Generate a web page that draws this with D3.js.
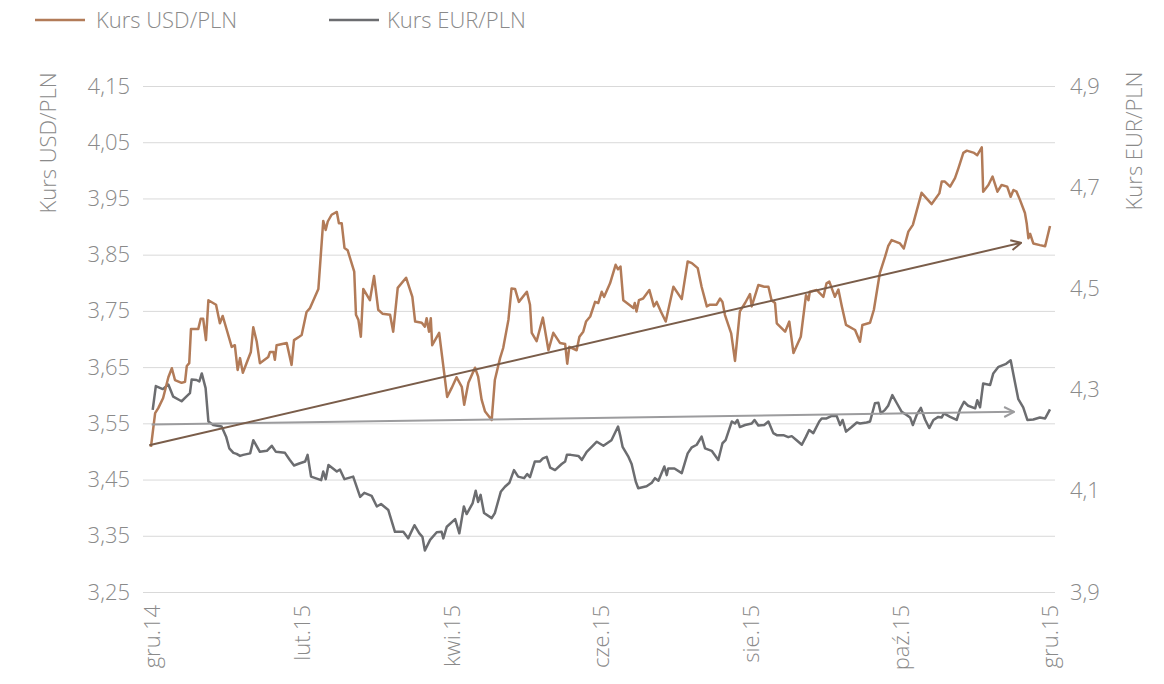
<!DOCTYPE html>
<html>
<head>
<meta charset="utf-8">
<script src="https://cdn.jsdelivr.net/npm/d3@7"></script>
<style>
  body { margin: 0; background: #fff; }
  svg { display: block; font-family: "Open Sans", sans-serif; font-weight: 300; }
</style>
</head>
<body>
<svg id="chart" width="1164" height="684"></svg>
<script>
// sesje notowań od gru.14 (0) do gru.15 (258)
const monthLabels = ["gru.14", "lut.15", "kwi.15", "cze.15", "sie.15", "paź.15", "gru.15"];
const monthSessions = [0, 43, 86, 129, 172, 215, 258];

const usdTicks = [3.25, 3.35, 3.45, 3.55, 3.65, 3.75, 3.85, 3.95, 4.05, 4.15];
const eurTicks = [3.9, 4.1, 4.3, 4.5, 4.7, 4.9];

const usdSession = [-0.3, 0.9, 1.8, 3.2, 4.7, 5.7, 6.6, 8.5, 9.5, 10.0, 10.7, 11.2, 13.3, 14.0, 14.7, 15.5, 16.2, 18.4, 19.5, 20.3,
  21.3, 22.9, 23.8, 24.6, 25.3, 26.1, 28.4, 29.1, 30.1, 31.0, 33.4, 33.9, 34.9, 35.3, 35.8, 38.7, 40.1, 40.8, 42.3, 43.0,
  44.4, 45.4, 47.8, 49.2, 49.9, 50.5, 51.6, 53.1, 53.7, 54.5, 55.3, 56.2, 58.1, 58.6, 59.3, 60.0, 60.7, 62.6, 63.8, 65.0,
  66.2, 68.4, 69.3, 70.6, 73.0, 74.8, 75.6, 77.5, 78.4, 78.9, 79.6, 80.1, 80.5, 82.5, 84.8, 86.1, 87.5, 89.0, 89.7, 90.9,
  92.8, 93.7, 94.7, 95.7, 97.6, 98.5, 100.0, 100.9, 102.4, 103.3, 104.3, 105.4, 107.7, 108.6, 109.1, 110.5, 112.3, 113.9, 115.3, 117.2,
  118.7, 119.3, 119.9, 122.0, 122.8, 123.9, 124.7, 125.9, 127.3, 128.2, 129.2, 129.9, 131.6, 133.2, 133.9, 134.6, 135.4, 137.1, 138.3, 138.7,
  139.2, 139.9, 141.1, 142.9, 144.2, 145.0, 146.2, 147.6, 149.8, 152.2, 153.9, 155.1, 156.8, 157.9, 159.4, 160.3, 162.2, 163.2, 163.9, 164.6,
  166.4, 167.5, 168.9, 170.4, 171.8, 172.3, 174.2, 175.9, 177.1, 178.0, 179.0, 179.5, 181.9, 183.1, 184.3, 186.4, 187.9, 188.6, 189.0, 191.0,
  192.9, 193.8, 194.6, 196.2, 197.2, 198.2, 199.4, 202.0, 203.4, 204.1, 206.3, 207.4, 209.1, 210.6, 211.5, 212.5, 214.9, 216.0, 217.3, 218.6,
  221.1, 224.0, 226.2, 226.9, 227.8, 229.3, 230.7, 231.7, 233.1, 234.1, 236.2, 237.1, 238.4, 238.8, 240.3, 241.5, 242.9, 244.1, 245.7, 246.7,
  247.5, 248.4, 249.4, 250.8, 251.3, 251.8, 252.3, 253.2, 255.1, 256.6, 258.0];
const usdValues = [3.508, 3.568, 3.577, 3.595, 3.632, 3.648, 3.627, 3.622, 3.624, 3.652, 3.657, 3.718, 3.718, 3.736, 3.736, 3.698, 3.769, 3.761, 3.728, 3.741,
  3.720, 3.686, 3.689, 3.645, 3.666, 3.640, 3.677, 3.721, 3.695, 3.657, 3.668, 3.677, 3.677, 3.663, 3.689, 3.693, 3.654, 3.698, 3.704, 3.707,
  3.748, 3.755, 3.789, 3.910, 3.894, 3.909, 3.921, 3.926, 3.906, 3.906, 3.862, 3.858, 3.820, 3.743, 3.734, 3.704, 3.789, 3.769, 3.812, 3.752,
  3.745, 3.743, 3.713, 3.791, 3.809, 3.775, 3.731, 3.729, 3.722, 3.737, 3.713, 3.737, 3.689, 3.711, 3.597, 3.613, 3.632, 3.615, 3.583, 3.622,
  3.649, 3.633, 3.592, 3.571, 3.556, 3.627, 3.666, 3.684, 3.734, 3.790, 3.789, 3.766, 3.784, 3.761, 3.711, 3.696, 3.738, 3.680, 3.711, 3.693,
  3.691, 3.656, 3.686, 3.680, 3.704, 3.713, 3.731, 3.740, 3.766, 3.764, 3.784, 3.775, 3.799, 3.832, 3.824, 3.829, 3.769, 3.761, 3.755, 3.764,
  3.749, 3.769, 3.772, 3.787, 3.758, 3.766, 3.749, 3.731, 3.793, 3.771, 3.838, 3.835, 3.826, 3.793, 3.758, 3.761, 3.761, 3.772, 3.766, 3.743,
  3.710, 3.661, 3.749, 3.764, 3.780, 3.758, 3.796, 3.793, 3.793, 3.769, 3.764, 3.728, 3.713, 3.731, 3.675, 3.704, 3.778, 3.769, 3.784, 3.787,
  3.775, 3.799, 3.802, 3.775, 3.788, 3.758, 3.725, 3.716, 3.695, 3.725, 3.729, 3.752, 3.817, 3.846, 3.865, 3.876, 3.870, 3.861, 3.891, 3.903,
  3.960, 3.940, 3.959, 3.980, 3.980, 3.971, 3.986, 4.004, 4.031, 4.035, 4.031, 4.027, 4.041, 3.962, 3.974, 3.989, 3.962, 3.974, 3.971, 3.953,
  3.965, 3.962, 3.947, 3.924, 3.906, 3.879, 3.887, 3.870, 3.867, 3.865, 3.901];

const eurSession = [0.2, 1.1, 3.1, 4.7, 6.1, 8.5, 10.0, 10.9, 11.4, 12.8, 13.6, 14.3, 15.4, 16.2, 17.6, 20.0, 21.3, 22.2, 23.4, 24.3,
  25.3, 26.2, 28.2, 29.1, 31.0, 33.0, 34.4, 35.6, 38.2, 39.6, 40.8, 42.3, 44.0, 44.7, 45.7, 48.6, 49.2, 49.9, 50.7, 53.1,
  54.0, 55.3, 57.8, 59.8, 61.0, 63.1, 64.6, 65.8, 67.9, 69.8, 72.2, 73.6, 75.4, 76.8, 77.7, 78.4, 79.9, 81.8, 83.2, 83.7,
  84.7, 87.1, 88.3, 89.6, 90.4, 92.1, 93.0, 93.7, 94.4, 95.4, 97.6, 98.5, 100.2, 101.4, 102.7, 104.0, 105.2, 106.9, 107.8, 108.6,
  110.0, 111.5, 112.3, 113.4, 114.4, 115.8, 117.7, 118.7, 119.2, 120.3, 122.5, 123.5, 124.9, 127.8, 129.7, 132.0, 133.9, 134.6, 135.2, 136.9,
  137.8, 139.0, 139.7, 142.1, 143.6, 144.5, 145.5, 147.2, 147.9, 148.3, 150.1, 152.2, 153.9, 155.1, 156.5, 157.9, 158.9, 160.8, 162.7, 163.9,
  164.8, 166.6, 167.5, 168.2, 168.9, 170.4, 172.3, 173.1, 174.2, 175.9, 177.1, 178.5, 179.5, 181.4, 182.8, 183.8, 185.2, 186.7, 187.9, 188.8,
  190.0, 191.7, 192.4, 193.8, 195.3, 196.7, 197.7, 198.4, 199.4, 201.0, 202.5, 203.4, 205.3, 206.3, 207.7, 208.7, 209.4, 210.6, 211.5, 212.7,
  214.0, 215.4, 216.8, 217.8, 218.6, 219.7, 220.9, 222.1, 223.3, 224.5, 225.9, 226.9, 227.5, 229.3, 231.2, 232.1, 233.3, 234.5, 236.5, 237.1,
  237.9, 238.8, 240.8, 241.7, 243.2, 245.4, 246.7, 248.0, 248.9, 250.3, 251.5, 253.2, 255.1, 256.6, 258.0];
const eurValues = [4.260, 4.307, 4.301, 4.310, 4.286, 4.277, 4.287, 4.293, 4.320, 4.319, 4.316, 4.332, 4.303, 4.237, 4.230, 4.227, 4.207, 4.184, 4.175, 4.173,
  4.169, 4.171, 4.174, 4.200, 4.177, 4.179, 4.189, 4.177, 4.175, 4.161, 4.150, 4.154, 4.158, 4.171, 4.128, 4.121, 4.138, 4.123, 4.151, 4.138,
  4.142, 4.123, 4.128, 4.088, 4.096, 4.090, 4.069, 4.074, 4.062, 4.019, 4.019, 4.006, 4.032, 4.016, 4.009, 3.982, 4.003, 4.018, 4.019, 4.006,
  4.029, 4.044, 4.016, 4.069, 4.054, 4.075, 4.100, 4.078, 4.092, 4.056, 4.046, 4.056, 4.098, 4.108, 4.116, 4.141, 4.128, 4.125, 4.133, 4.127,
  4.158, 4.158, 4.164, 4.167, 4.146, 4.141, 4.153, 4.158, 4.171, 4.171, 4.169, 4.161, 4.177, 4.197, 4.189, 4.200, 4.227, 4.207, 4.187, 4.167,
  4.153, 4.118, 4.105, 4.109, 4.116, 4.125, 4.120, 4.148, 4.131, 4.144, 4.144, 4.135, 4.174, 4.186, 4.191, 4.207, 4.184, 4.179, 4.161, 4.194,
  4.200, 4.237, 4.233, 4.240, 4.226, 4.230, 4.233, 4.240, 4.229, 4.230, 4.237, 4.214, 4.210, 4.210, 4.206, 4.208, 4.200, 4.191, 4.207, 4.220,
  4.214, 4.237, 4.243, 4.243, 4.248, 4.248, 4.230, 4.240, 4.217, 4.226, 4.235, 4.233, 4.235, 4.237, 4.273, 4.274, 4.253, 4.260, 4.268, 4.289,
  4.273, 4.256, 4.250, 4.245, 4.230, 4.250, 4.264, 4.241, 4.224, 4.240, 4.246, 4.245, 4.253, 4.246, 4.240, 4.260, 4.276, 4.268, 4.263, 4.279,
  4.265, 4.312, 4.309, 4.332, 4.345, 4.351, 4.358, 4.312, 4.281, 4.265, 4.240, 4.241, 4.245, 4.243, 4.261];

// linie trendu: [sesja, kurs] początek i koniec
const usdTrendSessions = [-0.8, 249.7];
const usdTrendValues = [3.511, 3.871];
const eurTrendSessions = [-0.1, 247.7];
const eurTrendValues = [4.231, 4.256];

const colors = {
  usd: "#b27b58",
  eur: "#6c6d70",
  usdTrend: "#7a5d4a",
  eurTrend: "#9c9c9e",
  grid: "#d9d9d9",
  text: "#8a8a8a",
};
const fontSize = 22;

const svg = d3.select("#chart");

const x = d3.scaleLinear().domain([0, 258]).range([152, 1050]);
const yUsd = d3.scaleLinear().domain([3.25, 4.15]).range([592, 86]);
const yEur = d3.scaleLinear().domain([3.9, 4.9]).range([592, 86]);

const fmt = (v, digits) => v.toFixed(digits).replace(".", ",");

function styleText(sel) {
  sel.attr("fill", colors.text)
    .attr("font-size", fontSize)
    .attr("font-family", "Open Sans")
    .attr("font-weight", 300);
}

// siatka + lewa oś
const left = svg.append("g").attr("transform", "translate(143,0)")
  .call(d3.axisLeft(yUsd).tickValues(usdTicks).tickSize(-912).tickPadding(13).tickFormat((d) => fmt(d, 2)));
left.select(".domain").remove();
left.selectAll(".tick line").attr("stroke", colors.grid).attr("stroke-width", 1);
left.selectAll(".tick text").call(styleText);

// prawa oś
const right = svg.append("g").attr("transform", "translate(1056,0)")
  .call(d3.axisRight(yEur).tickValues(eurTicks).tickSize(0).tickPadding(14).tickFormat((d) => fmt(d, 1)));
right.select(".domain").remove();
right.selectAll(".tick text").call(styleText);

// oś X
const bottom = svg.append("g").attr("transform", "translate(0,592)")
  .call(d3.axisBottom(x).tickValues(monthSessions).tickSize(0).tickFormat((d, i) => monthLabels[i]));
bottom.select(".domain").remove();
bottom.selectAll(".tick text")
  .call(styleText)
  .attr("text-anchor", "end")
  .attr("transform", "rotate(-90)")
  .attr("x", -13)
  .attr("y", 0)
  .attr("dy", "0.35em");

// tytuły osi
svg.append("text")
  .attr("transform", "translate(56,143) rotate(-90)")
  .attr("text-anchor", "middle")
  .call(styleText)
  .text("Kurs USD/PLN");

svg.append("text")
  .attr("transform", "translate(1142,141) rotate(-90)")
  .attr("text-anchor", "middle")
  .call(styleText)
  .text("Kurs EUR/PLN");

// strzałki
const defs = svg.append("defs");
[["arrowUsd", colors.usdTrend], ["arrowEur", colors.eurTrend]].forEach(([id, c]) => {
  defs.append("marker")
    .attr("id", id)
    .attr("viewBox", "0 0 12 12")
    .attr("refX", 11)
    .attr("refY", 6)
    .attr("markerWidth", 12)
    .attr("markerHeight", 12)
    .attr("markerUnits", "userSpaceOnUse")
    .attr("orient", "auto")
    .append("path")
    .attr("d", "M1,1 L11,6 L1,11")
    .attr("fill", "none")
    .attr("stroke", c)
    .attr("stroke-width", 2);
});

const usdData = usdSession.map((s, i) => [s, usdValues[i]]);
const eurData = eurSession.map((s, i) => [s, eurValues[i]]);

const lineUsd = d3.line().x((d) => x(d[0])).y((d) => yUsd(d[1]));
const lineEur = d3.line().x((d) => x(d[0])).y((d) => yEur(d[1]));

svg.append("path")
  .datum(eurData)
  .attr("d", lineEur)
  .attr("fill", "none")
  .attr("stroke", colors.eur)
  .attr("stroke-width", 2.5)
  .attr("stroke-linejoin", "round");

svg.append("path")
  .datum(usdData)
  .attr("d", lineUsd)
  .attr("fill", "none")
  .attr("stroke", colors.usd)
  .attr("stroke-width", 2.5)
  .attr("stroke-linejoin", "round");

svg.append("path")
  .datum(eurTrendSessions.map((s, i) => [s, eurTrendValues[i]]))
  .attr("d", lineEur)
  .attr("fill", "none")
  .attr("stroke", colors.eurTrend)
  .attr("stroke-width", 2)
  .attr("marker-end", "url(#arrowEur)");

svg.append("path")
  .datum(usdTrendSessions.map((s, i) => [s, usdTrendValues[i]]))
  .attr("d", lineUsd)
  .attr("fill", "none")
  .attr("stroke", colors.usdTrend)
  .attr("stroke-width", 2)
  .attr("marker-end", "url(#arrowUsd)");

// legenda
const legendItems = [
  { label: "Kurs USD/PLN", color: colors.usd, x: 35, gap: 61 },
  { label: "Kurs EUR/PLN", color: colors.eur, x: 329, gap: 58 },
];
const legend = svg.append("g");
legendItems.forEach((item) => {
  legend.append("line")
    .attr("x1", item.x).attr("x2", item.x + 50)
    .attr("y1", 20).attr("y2", 20)
    .attr("stroke", item.color)
    .attr("stroke-width", 2.5);
  legend.append("text")
    .attr("x", item.x + item.gap)
    .attr("y", 28)
    .call(styleText)
    .text(item.label);
});
</script>
</body>
</html>
